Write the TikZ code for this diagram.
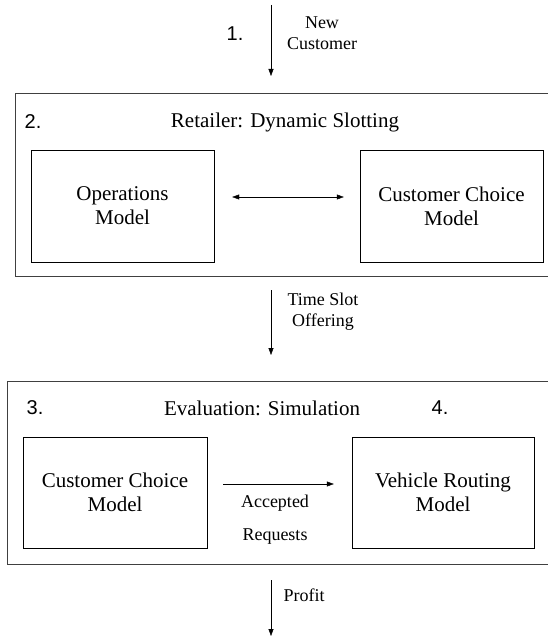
\documentclass[tikz,border=0pt]{standalone}
\usepackage{fontspec}
\setmainfont{Liberation Serif}
\newfontfamily\txtfont{Liberation Serif}
\newfontfamily\numfont{Liberation Sans}
\usetikzlibrary{arrows.meta}

\begin{document}
\begin{tikzpicture}[x=1pt, y=-1pt,
  model/.style={draw, minimum width=183pt, minimum height=112pt, inner sep=0pt,
    align=center, font=\txtfont\fontsize{21}{24}\selectfont},
  outerframe/.style={draw=black!75, line width=0.9pt},
  flow/.style={-{Triangle[length=7pt,width=5pt]}},
  flowlabel/.style={align=center, font=\txtfont\fontsize{18}{21}\selectfont},
  stepno/.style={font=\numfont\fontsize{20}{24}\selectfont},
  title/.style={font=\txtfont\fontsize{21}{24}\selectfont}]
  \useasboundingbox (0,0) rectangle (548,639);
  % 1. new customer comes in
  \coordinate (newtop) at (271,5);
  \coordinate (newend) at (271,76);
  \draw[flow] (newtop) -- (newend);
  \node[stepno] (no1) at (235,34) {1.};
  \node[flowlabel] (newcust) at (322,33) {New\\Customer};
  % 2. retailer
  \draw[outerframe] (548,93) -- (15,93) -- (15,276) -- (548,276);
  \node[stepno] (no2) at (33,122) {2.};
  \node[title] (retailer) at (285,122) {Retailer: Dynamic Slotting};
  \node[model] (ops) at (122.5,206) {Operations\\Model};
  \node[model] (choicea) at (451.5,206) {Customer Choice\\Model};
  \draw[{Triangle[length=7pt,width=5pt]}-{Triangle[length=7pt,width=5pt]},
    shorten <=18pt, shorten >=16pt] ([yshift=9pt]ops.east) -- ([yshift=9pt]choicea.west);
  % offering
  \coordinate (offtop) at (271,290);
  \coordinate (offend) at (271,355);
  \draw[flow] (offtop) -- (offend);
  \node[flowlabel] (offer) at (323,312) {Time Slot\\Offering};
  % 3./4. evaluation
  \draw[outerframe] (548,381) -- (7,381) -- (7,564) -- (548,564);
  \node[stepno] (no3) at (35,408) {3.};
  \node[title] (evalsim) at (262,408) {Evaluation: Simulation};
  \node[stepno] (no4) at (440,408) {4.};
  \node[model, minimum width=184pt, minimum height=111pt] (choiceb) at (115,492.5) {Customer Choice\\Model};
  \node[model, minimum width=182pt, minimum height=111pt] (routing) at (443,492.5) {Vehicle Routing\\Model};
  \draw[flow, shorten <=16pt, shorten >=18pt] ([yshift=8.5pt]choiceb.east) -- ([yshift=8.5pt]routing.west);
  \node[flowlabel, font=\txtfont\fontsize{18}{33}\selectfont] (accepted) at (275,519.5) {Accepted\\Requests};
  % profit goes out
  \coordinate (proftop) at (271,580);
  \coordinate (profend) at (271,636);
  \draw[flow] (proftop) -- (profend);
  \node[flowlabel, anchor=west] (profit) at (280,595) {Profit};
\end{tikzpicture}
\end{document}
